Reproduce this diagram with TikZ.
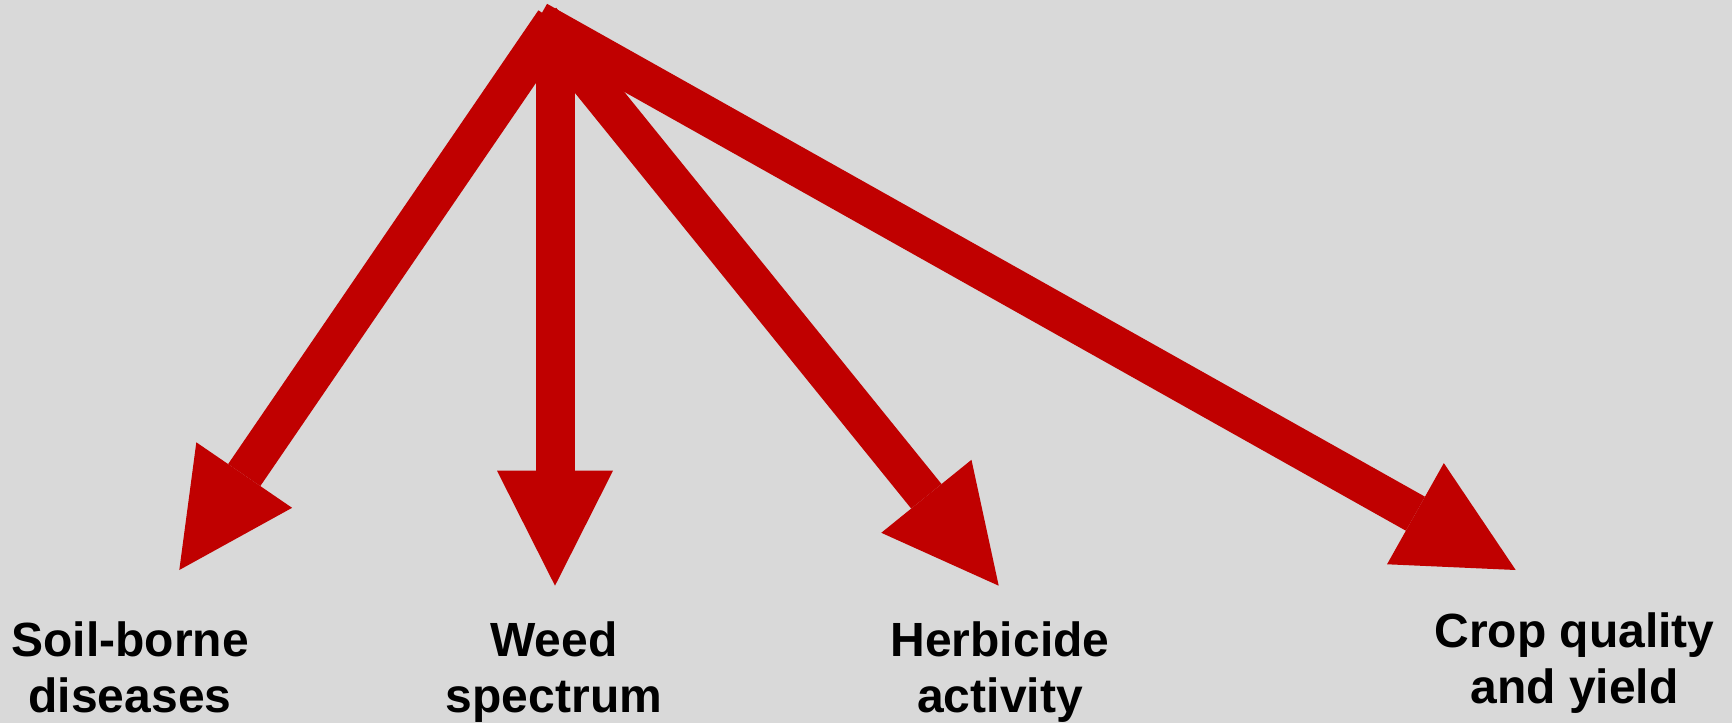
\documentclass[tikz,border=0pt]{standalone}
\usepackage{fontspec}
\setmainfont{Liberation Sans}
\usetikzlibrary{arrows.meta}
\definecolor{arrowred}{HTML}{C00000}
\definecolor{bggray}{HTML}{D9D9D9}
\begin{document}
\begin{tikzpicture}[x=1pt,y=-1pt,
  bigarrow/.style={color=arrowred, line width=39pt, line cap=butt,
    -{Triangle[length=115pt,width=116pt,line width=0pt]}},
  lbl/.style={font=\fontsize{48}{56}\selectfont\bfseries, align=center,
    inner sep=0pt, anchor=north, text=black}]
\fill[bggray] (0,0) rectangle (1732,723);
\useasboundingbox (0,0) rectangle (1732,723);
% start and end points of the arrows
\coordinate (s1) at (554.5,21.3);
\coordinate (s2) at (555,20);
\coordinate (s3) at (541,20);
\coordinate (s4) at (537.5,20.8);
\coordinate (e1) at (179.3,570);
\coordinate (e2) at (555,585.7);
\coordinate (e3) at (998.7,585.7);
\coordinate (e4) at (1515.7,570);
\draw[bigarrow] (s1) -- (e1);
\draw[bigarrow] (s2) -- (e2);
\draw[bigarrow] (s3) -- (e3);
\draw[bigarrow] (s4) -- (e4);
% labels
\node[lbl] (t1) at (130,621.5) {Soil-borne\\diseases};
\node[lbl] (t2) at (554,621.5) {Weed\\spectrum};
\node[lbl] (t3) at (1000,621.5) {Herbicide\\activity};
\node[lbl] (t4) at (1574.5,613) {Crop quality\\and yield};
\end{tikzpicture}
\end{document}
